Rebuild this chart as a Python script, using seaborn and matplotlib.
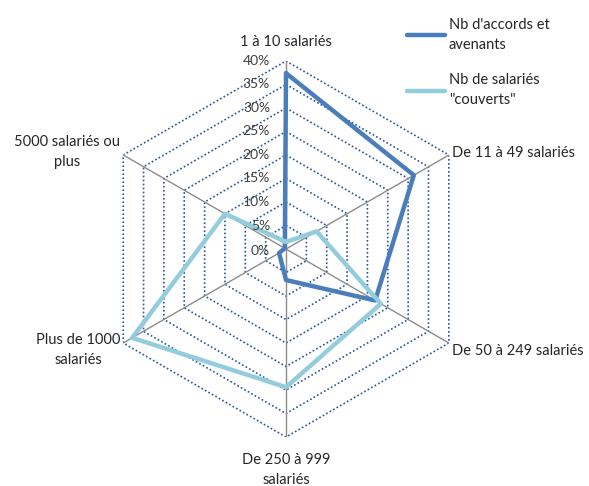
import numpy as np
import pandas as pd
import matplotlib
matplotlib.use("Agg")
import matplotlib.pyplot as plt
import seaborn as sns
from matplotlib.lines import Line2D

# ---------- DATA ----------
categories = ["1 à 10 salariés", "De 11 à 49 salariés", "De 50 à 249 salariés",
              "De 250 à 999\nsalariés", "Plus de 1000\nsalariés", "5000 salariés ou\nplus"]
accords = [37.4, 31.4, 21.9, 6.6, 1.7, 0.3]      # Nb d'accords et avenants (%)
salaries = [1.5, 7.5, 23.3, 29.4, 37.8, 15.0]    # Nb de salariés "couverts" (%)
ring_values = [0, 5, 10, 15, 20, 25, 30, 35, 40]
ring_labels = [f"{v}%" for v in ring_values]
series_names = ["Nb d'accords et\navenants", "Nb de salariés\n\"couverts\""]
# --------------------------

DARK = "#4A7EBB"
LIGHT = "#93CDDD"
GRID = "#2A5596"
SPOKE = "#8C8C8C"
TXT = "#262626"

sns.set_theme(style="white")
plt.rcParams["font.family"] = ["Lato", "DejaVu Sans"]

n = len(categories)
theta = np.linspace(0, 2 * np.pi, n, endpoint=False)
theta_closed = np.append(theta, theta[0])

fig = plt.figure(figsize=(5.89, 4.86), dpi=100)
ax = fig.add_axes([0.1664, 0.1008, 0.6384, 0.7737], projection="polar")
ax.set_theta_zero_location("N")
ax.set_theta_direction(-1)
ax.set_ylim(0, 40)
ax.grid(False)
ax.spines["polar"].set_visible(False)
ax.set_xticks([])
ax.set_yticks([])
ax.set_facecolor("none")

# hexagonal dotted rings
for v in ring_values[1:]:
    ax.plot(theta_closed, [v] * (n + 1), color=GRID, lw=1.2,
            linestyle=(0, (1, 1.4)), zorder=1)
# spokes
for t in theta:
    ax.plot([t, t], [0, 40], color=SPOKE, lw=1.0, zorder=2)

# data series
rows = []
for name, vals in zip(series_names, [accords, salaries]):
    vals_closed = list(vals) + [vals[0]]
    for i, (t, v) in enumerate(zip(theta_closed, vals_closed)):
        rows.append({"serie": name, "order": i, "theta": t, "value": v})
df = pd.DataFrame(rows)
sns.lineplot(data=df, x="theta", y="value", hue="serie", units="serie",
             estimator=None, sort=False, palette=[DARK, LIGHT], lw=3.2,
             ax=ax, legend=False, zorder=3)
ax.set_xlabel("")
ax.set_ylabel("")
ax.set_ylim(0, 40)

# radial labels
for v, lab in zip(ring_values, ring_labels):
    ax.annotate(lab, xy=(0, v), xytext=(-16, -2 if v == 0 else 0),
                textcoords="offset pixels", ha="right", va="center",
                fontsize=10, color="#404040", zorder=4)

# category labels
offsets = [(0, 12), (3, 2), (3, -8), (0, -16), (-3, -7), (-3, 3)]
aligns = [("center", "bottom"), ("left", "center"), ("left", "center"),
          ("center", "top"), ("right", "center"), ("right", "center")]
for t, lab, off, (ha, va) in zip(theta, categories, offsets, aligns):
    ax.annotate(lab, xy=(t, 40), xytext=off, textcoords="offset pixels",
                ha=ha, va=va, multialignment="center", fontsize=10.5,
                color=TXT, annotation_clip=False, linespacing=1.5)

# legend
handles = [Line2D([], [], color=DARK, lw=3.2), Line2D([], [], color=LIGHT, lw=3.2)]
leg = fig.legend(handles, series_names, loc="upper left",
                 bbox_to_anchor=(394 / 589, 1 - 5 / 486), frameon=False,
                 fontsize=10.5, handlelength=2.6, handletextpad=0.25,
                 labelspacing=1.5, labelcolor=TXT)
for t in leg.get_texts():
    t.set_linespacing(1.5)

fig.savefig("out.png", dpi=100)
